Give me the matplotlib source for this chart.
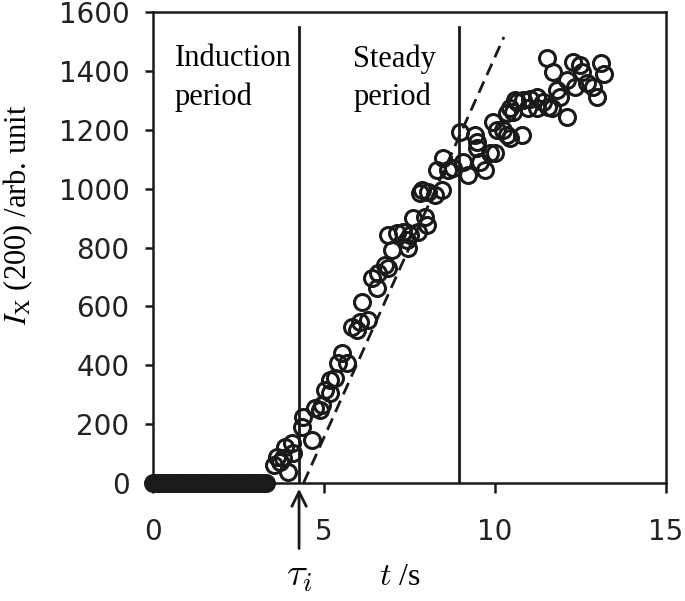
import matplotlib
matplotlib.use('Agg')
import matplotlib.pyplot as plt

# induction period: signal stays at zero
t_zero = [0.0, 0.05, 0.1, 0.15, 0.2, 0.25, 0.3, 0.35, 0.4, 0.45, 0.5, 0.55,
          0.6, 0.65, 0.7, 0.75, 0.8, 0.85, 0.9, 0.95, 1.0, 1.05, 1.1, 1.15,
          1.2, 1.25, 1.3, 1.35, 1.4, 1.45, 1.5, 1.55, 1.6, 1.65, 1.7, 1.75,
          1.8, 1.85, 1.9, 1.95, 2.0, 2.05, 2.1, 2.15, 2.2, 2.25, 2.3, 2.35,
          2.4, 2.45, 2.5, 2.55, 2.6, 2.65, 2.7, 2.75, 2.8, 2.85, 2.9, 2.95,
          3.0, 3.05, 3.1, 3.15, 3.2, 3.25, 3.3]
I_zero = [0, 0, 0, 0, 0, 0, 0, 0, 0, 0, 0, 0, 0, 0, 0, 0, 0, 0, 0, 0, 0, 0,
          0, 0, 0, 0, 0, 0, 0, 0, 0, 0, 0, 0, 0, 0, 0, 0, 0, 0, 0, 0, 0, 0,
          0, 0, 0, 0, 0, 0, 0, 0, 0, 0, 0, 0, 0, 0, 0, 0, 0, 0, 0, 0, 0, 0,
          0]

# growth after tau_i
t_grow = [3.54, 3.62, 3.71, 3.80, 3.86, 3.95, 4.06, 4.10, 4.36, 4.39, 4.65,
          4.74, 4.88, 4.94, 5.03, 5.18, 5.18, 5.32, 5.41, 5.53, 5.67, 5.82,
          5.96, 6.05, 6.11, 6.29, 6.40, 6.55, 6.58, 6.78, 6.87, 6.87, 6.99,
          7.13, 7.31, 7.43, 7.45, 7.51, 7.60, 7.75, 7.80, 7.87, 7.95, 8.00,
          8.05, 8.25, 8.30, 8.45, 8.48, 8.62, 8.77, 8.98, 9.06, 9.21, 9.41,
          9.47, 9.47, 9.56, 9.71, 9.85, 9.94, 10.00, 10.06, 10.24, 10.35,
          10.35, 10.44, 10.44, 10.53, 10.58, 10.64, 10.79, 10.82, 10.96,
          11.02, 11.23, 11.23, 11.40, 11.52, 11.55, 11.66, 11.70, 11.81,
          11.90, 12.10, 12.10, 12.28, 12.34, 12.49, 12.54, 12.69, 12.87,
          12.98, 13.10, 13.19]
I_grow = [61, 88, 71, 85, 122, 37, 136, 102, 190, 224, 146,
          255, 248, 265, 316, 306, 350, 357, 408, 441, 408, 530,
          520, 547, 615, 554, 696, 662, 713, 740, 730, 842, 791,
          849, 853, 825, 800, 842, 900, 853, 985, 995, 903, 876,
          990, 978, 1063, 995, 1104, 1063, 1070, 1192, 1090, 1046, 1182,
          1158, 1137, 1090, 1063, 1121, 1226, 1121, 1199, 1199, 1257,
          1182, 1172, 1274, 1260, 1301, 1294, 1182, 1301, 1274,
          1305, 1311, 1274, 1294, 1443, 1277, 1274, 1396, 1335,
          1311, 1369, 1243, 1430, 1345, 1420, 1396, 1359, 1345,
          1311, 1427, 1389]

# linear fit of the steady period
fit_t = [4.4, 10.26]
fit_I = [0, 1515]

tau_i = 4.27
t_steady_end = 8.95
line_top = 1550

plt.rcParams['font.family'] = 'DejaVu Sans'

fig = plt.figure(figsize=(6.85, 6.01), dpi=100)
ax = fig.add_axes([0.2234, 0.1963, 0.7489, 0.7837])

ax.plot(t_zero, I_zero, 'o', ms=11.5, mfc='none', mec='#1a1a1a', mew=2.2, clip_on=False)
ax.plot(t_grow, I_grow, 'o', ms=11.5, mfc='none', mec='#1a1a1a', mew=2.2, clip_on=False)
ax.plot(fit_t, fit_I, '--', color='#1a1a1a', lw=2.0, dashes=(4.5, 2.5))

ax.plot([tau_i, tau_i], [0, line_top], color='#1a1a1a', lw=2.0)
ax.plot([t_steady_end, t_steady_end], [0, line_top], color='#1a1a1a', lw=2.0)

ax.set_xlim(0, 15)
ax.set_ylim(0, 1600)
ax.set_xticks([0, 5, 10, 15])
ax.set_yticks(range(0, 1601, 200))

for s in ax.spines.values():
    s.set_linewidth(1.8)
    s.set_color('#1a1a1a')
ax.tick_params(axis='both', direction='out', width=1.8, color='#1a1a1a',
               labelsize=20, labelcolor='#222222')
ax.tick_params(axis='y', length=6, pad=11)
ax.tick_params(axis='x', length=7, pad=18)

serif = 'Liberation Serif'
ax.text(0.64, 1490, 'Induction\nperiod', family=serif, fontsize=22,
        ha='left', va='top', linespacing=1.4)
ax.text(5.85, 1490, 'Steady\nperiod', family=serif, fontsize=22,
        ha='left', va='top', linespacing=1.4)

ax.annotate('', xy=(tau_i, -10), xytext=(tau_i, -232), annotation_clip=False,
            arrowprops=dict(arrowstyle='->', lw=2.0, color='#1a1a1a',
                            mutation_scale=26))
ax.text(tau_i, -312, r'$\tau_i$', fontsize=28, ha='center', va='center',
        math_fontfamily='cm')
ax.text(7.22, -320, r'$t$ /s', fontsize=23, ha='center', va='center',
        family=serif, math_fontfamily='cm')

fig.text(0.027, 0.642, r'$I_\mathrm{X}$ (200) /arb. unit', rotation=90,
         family=serif, fontsize=22, ha='center', va='center',
         math_fontfamily='stix')

fig.savefig('out.png', dpi=100)
